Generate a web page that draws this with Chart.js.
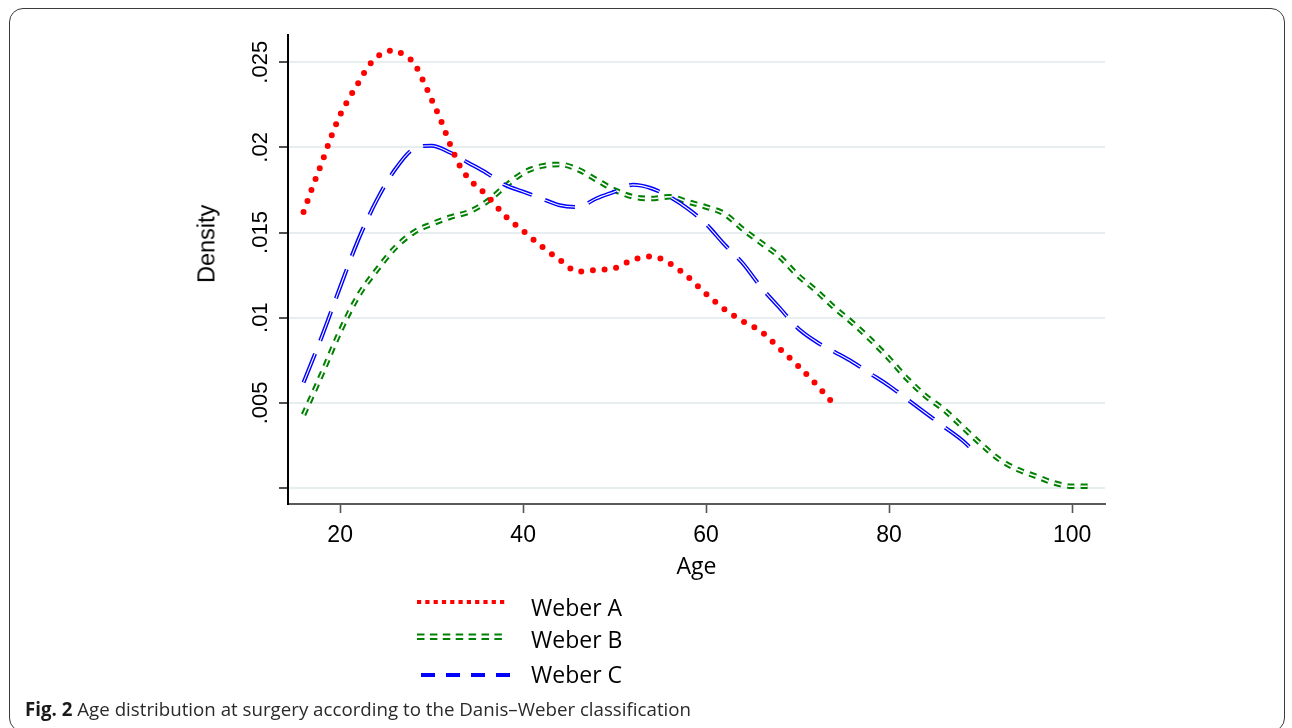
<!DOCTYPE html>
<html>
<head>
<meta charset="utf-8">
<script src="https://cdn.jsdelivr.net/npm/chart.js@4.4.1/dist/chart.umd.min.js"></script>
<style>
  html, body { margin: 0; padding: 0; background: #fff; }
  body { width: 1292px; height: 728px; position: relative; overflow: hidden; }
  #frame { position: absolute; left: 9px; top: 8px; width: 1276px; height: 724px; box-sizing: border-box;
           border: 1.6px solid #3a3a3a; border-radius: 14px; }
  #c { position: absolute; left: 0; top: 0; }
  .ytitle { position: absolute; font-family: "Liberation Sans", Arial, sans-serif; font-size: 23.5px; line-height: 23.5px;
            color: #000; white-space: nowrap; transform-origin: center center; }
  .leg { position: absolute; font-family: "Open Sans", sans-serif; font-size: 23px; line-height: 30px; color: #000; white-space: nowrap; }
  .legsvg { position: absolute; }
  #caption { position: absolute; left: 25px; top: 697px; font-family: "Open Sans", sans-serif; font-size: 19px; line-height: 24px;
             color: #2a2a2a; white-space: nowrap; transform-origin: left center; }
  #caption b { color: #1a1a1a; }
</style>
</head>
<body>
<div id="frame"></div>
<canvas id="c" width="1292" height="728"></canvas>
<div id="ytitle" class="ytitle">Density</div>

<svg class="legsvg" style="left:415px;top:596px" width="95" height="12">
  <line x1="2" y1="6" x2="92" y2="6" stroke="#ff0000" stroke-width="4.2" stroke-dasharray="4.2 4.1"/>
</svg>
<div class="leg" style="left:531px;top:592px">Weber A</div>

<svg class="legsvg" style="left:415px;top:630px" width="95" height="14">
  <line x1="2" y1="4.5" x2="92" y2="4.5" stroke="#008000" stroke-width="2.2" stroke-dasharray="7.5 5.4"/>
  <line x1="2" y1="9" x2="92" y2="9" stroke="#008000" stroke-width="2.2" stroke-dasharray="7.5 5.4"/>
</svg>
<div class="leg" style="left:531px;top:624px">Weber B</div>

<svg class="legsvg" style="left:419px;top:669px" width="95" height="12">
  <line x1="2" y1="6" x2="92" y2="6" stroke="#0000ff" stroke-width="4.2" stroke-dasharray="14 11"/>
</svg>
<div class="leg" style="left:531px;top:659px">Weber C</div>

<div id="caption"><b>Fig. 2</b> Age distribution at surgery according to the Danis–Weber classification</div>

<script>
// ---------------- data ----------------
const seriesNames = ['Weber A', 'Weber B', 'Weber C'];

const ageA = [16,17,18,19,20,21,22,23,24,25,26,27,28,29,30,31,32,33,34,36,38,40,42,44,46,48,50,52,54,56,58,60,62,64,66,68,70,72,74];
const densityA = [0.0162,0.0177,0.0191,0.0206,0.0219,0.0229,0.0238,0.0247,0.0253,0.0256,0.0257,0.0254,0.0250,0.0240,0.0228,0.0216,0.0202,0.0190,0.0182,0.0172,0.0160,0.0151,0.0142,0.0134,0.0127,0.0128,0.0129,0.0134,0.0136,0.0132,0.0124,0.0114,0.0105,0.0098,0.0092,0.0082,0.0072,0.0061,0.0049];

const ageB = [16,18,20,22,24,26,28,30,32,34,36,38,40,42,44,46,48,50,52,54,56,58,60,62,64,66,68,70,72,74,76,78,80,82,84,86,88,90,92,94,96,98,100,102];
const densityB = [0.0043,0.0067,0.0092,0.0113,0.0128,0.0141,0.0150,0.0155,0.0159,0.0162,0.0168,0.0177,0.0185,0.0189,0.0190,0.0187,0.0181,0.0175,0.0171,0.0170,0.0171,0.0168,0.0165,0.0161,0.0152,0.0144,0.0136,0.0125,0.0116,0.0106,0.0097,0.0087,0.0076,0.0064,0.0054,0.0046,0.0036,0.0026,0.0017,0.0011,0.0007,0.0003,0.0001,0.0001];

const ageC = [16,18,20,22,24,26,28,30,32,34,36,38,40,42,44,46,48,50,52,54,56,58,60,62,64,66,68,70,72,74,76,78,80,82,84,86,88,89];
const densityC = [0.0062,0.0089,0.0118,0.0146,0.0169,0.0187,0.0199,0.0201,0.0197,0.0191,0.0185,0.0178,0.0174,0.0170,0.0166,0.0165,0.0170,0.0174,0.0178,0.0176,0.0171,0.0164,0.0155,0.0143,0.0132,0.0118,0.0106,0.0094,0.0086,0.0080,0.0074,0.0067,0.0060,0.0052,0.0044,0.0036,0.0028,0.0023];

const xTickValues = [20, 40, 60, 80, 100];
const xTickLabels = ['20', '40', '60', '80', '100'];
const yTickValues = [0, 0.005, 0.01, 0.015, 0.02, 0.025];
const yTickLabels = ['', '.005', '.01', '.015', '.02', '.025'];
const xTitle = 'Age';
const yTitle = 'Density';

// ---------------- chart ----------------
const pts = (xs, ys) => xs.map((x, i) => ({ x: x, y: ys[i] }));
const base = { fill: false, pointRadius: 0, pointHoverRadius: 0, cubicInterpolationMode: 'monotone' };

const dashB = [7, 6.3];
const dashC = [31, 14];

const datasets = [
  Object.assign({}, base, { label: seriesNames[0], data: pts(ageA, densityA), borderColor: '#ff0000',
    borderWidth: 6, borderDash: [0, 11.7], borderCapStyle: 'round' }),
  Object.assign({}, base, { label: seriesNames[2] + ' inner', data: pts(ageC, densityC), borderColor: '#ffffff',
    borderWidth: 1.1, borderDash: dashC, borderCapStyle: 'butt' }),
  Object.assign({}, base, { label: seriesNames[2], data: pts(ageC, densityC), borderColor: '#0000ff',
    borderWidth: 4, borderDash: dashC, borderCapStyle: 'butt' }),
  Object.assign({}, base, { label: seriesNames[1] + ' inner', data: pts(ageB, densityB), borderColor: '#ffffff',
    borderWidth: 1.6, borderDash: dashB, borderCapStyle: 'butt' }),
  Object.assign({}, base, { label: seriesNames[1], data: pts(ageB, densityB), borderColor: '#008000',
    borderWidth: 5.6, borderDash: dashB, borderCapStyle: 'butt' })
];

new Chart(document.getElementById('c'), {
  type: 'line',
  data: { datasets: datasets },
  options: {
    responsive: false,
    animation: false,
    devicePixelRatio: 1,
    layout: { padding: { left: 228, right: 187, top: 35, bottom: 144 } },
    plugins: { legend: { display: false }, tooltip: { enabled: false } },
    scales: {
      x: {
        type: 'linear',
        min: 14.3, max: 103.6,
        afterBuildTicks: (s) => { s.ticks = xTickValues.map(v => ({ value: v })); },
        afterFit: (s) => { s.height = 80; },
        ticks: {
          autoSkip: false, maxRotation: 0, minRotation: 0, padding: 9,
          color: '#000', font: { family: 'Liberation Sans', size: 23 },
          callback: (v, i) => xTickLabels[i]
        },
        grid: { display: true, drawOnChartArea: false, drawTicks: true, tickLength: 9, tickWidth: 1.6, tickColor: '#555' },
        border: { display: true, color: '#5a5a5a', width: 2 },
        title: { display: true, text: xTitle, color: '#000', font: { family: 'Open Sans', size: 23 }, padding: { top: 0, bottom: 3 } }
      },
      y: {
        type: 'linear',
        min: -0.00094, max: 0.0266,
        afterBuildTicks: (s) => { s.ticks = yTickValues.map(v => ({ value: v })); },
        afterFit: (s) => { s.width = 60; },
        ticks: {
          autoSkip: false, minRotation: 90, maxRotation: 90, crossAlign: 'center', padding: -3,
          color: '#000', font: { family: 'Liberation Sans', size: 22 },
          callback: (v, i) => yTickLabels[i]
        },
        grid: { display: true, drawOnChartArea: true, drawTicks: true, tickLength: 9, tickWidth: 1.6,
                color: '#e7eef0', lineWidth: 2, tickColor: '#222' },
        border: { display: true, color: '#000', width: 2 },
        title: { display: false }
      }
    }
  }
});

// y-axis title placed as real text
const yt = document.getElementById('ytitle');
yt.textContent = yTitle;
const w = yt.getBoundingClientRect().width;
yt.style.left = (207 - w / 2) + 'px';
yt.style.top = (244 - 23.5 / 2) + 'px';
yt.style.transform = 'rotate(-90deg)';

// caption width fit
const cap = document.getElementById('caption');
const cw = cap.getBoundingClientRect().width;
cap.style.transform = 'scaleX(' + (666 / cw) + ')';
</script>
</body>
</html>
